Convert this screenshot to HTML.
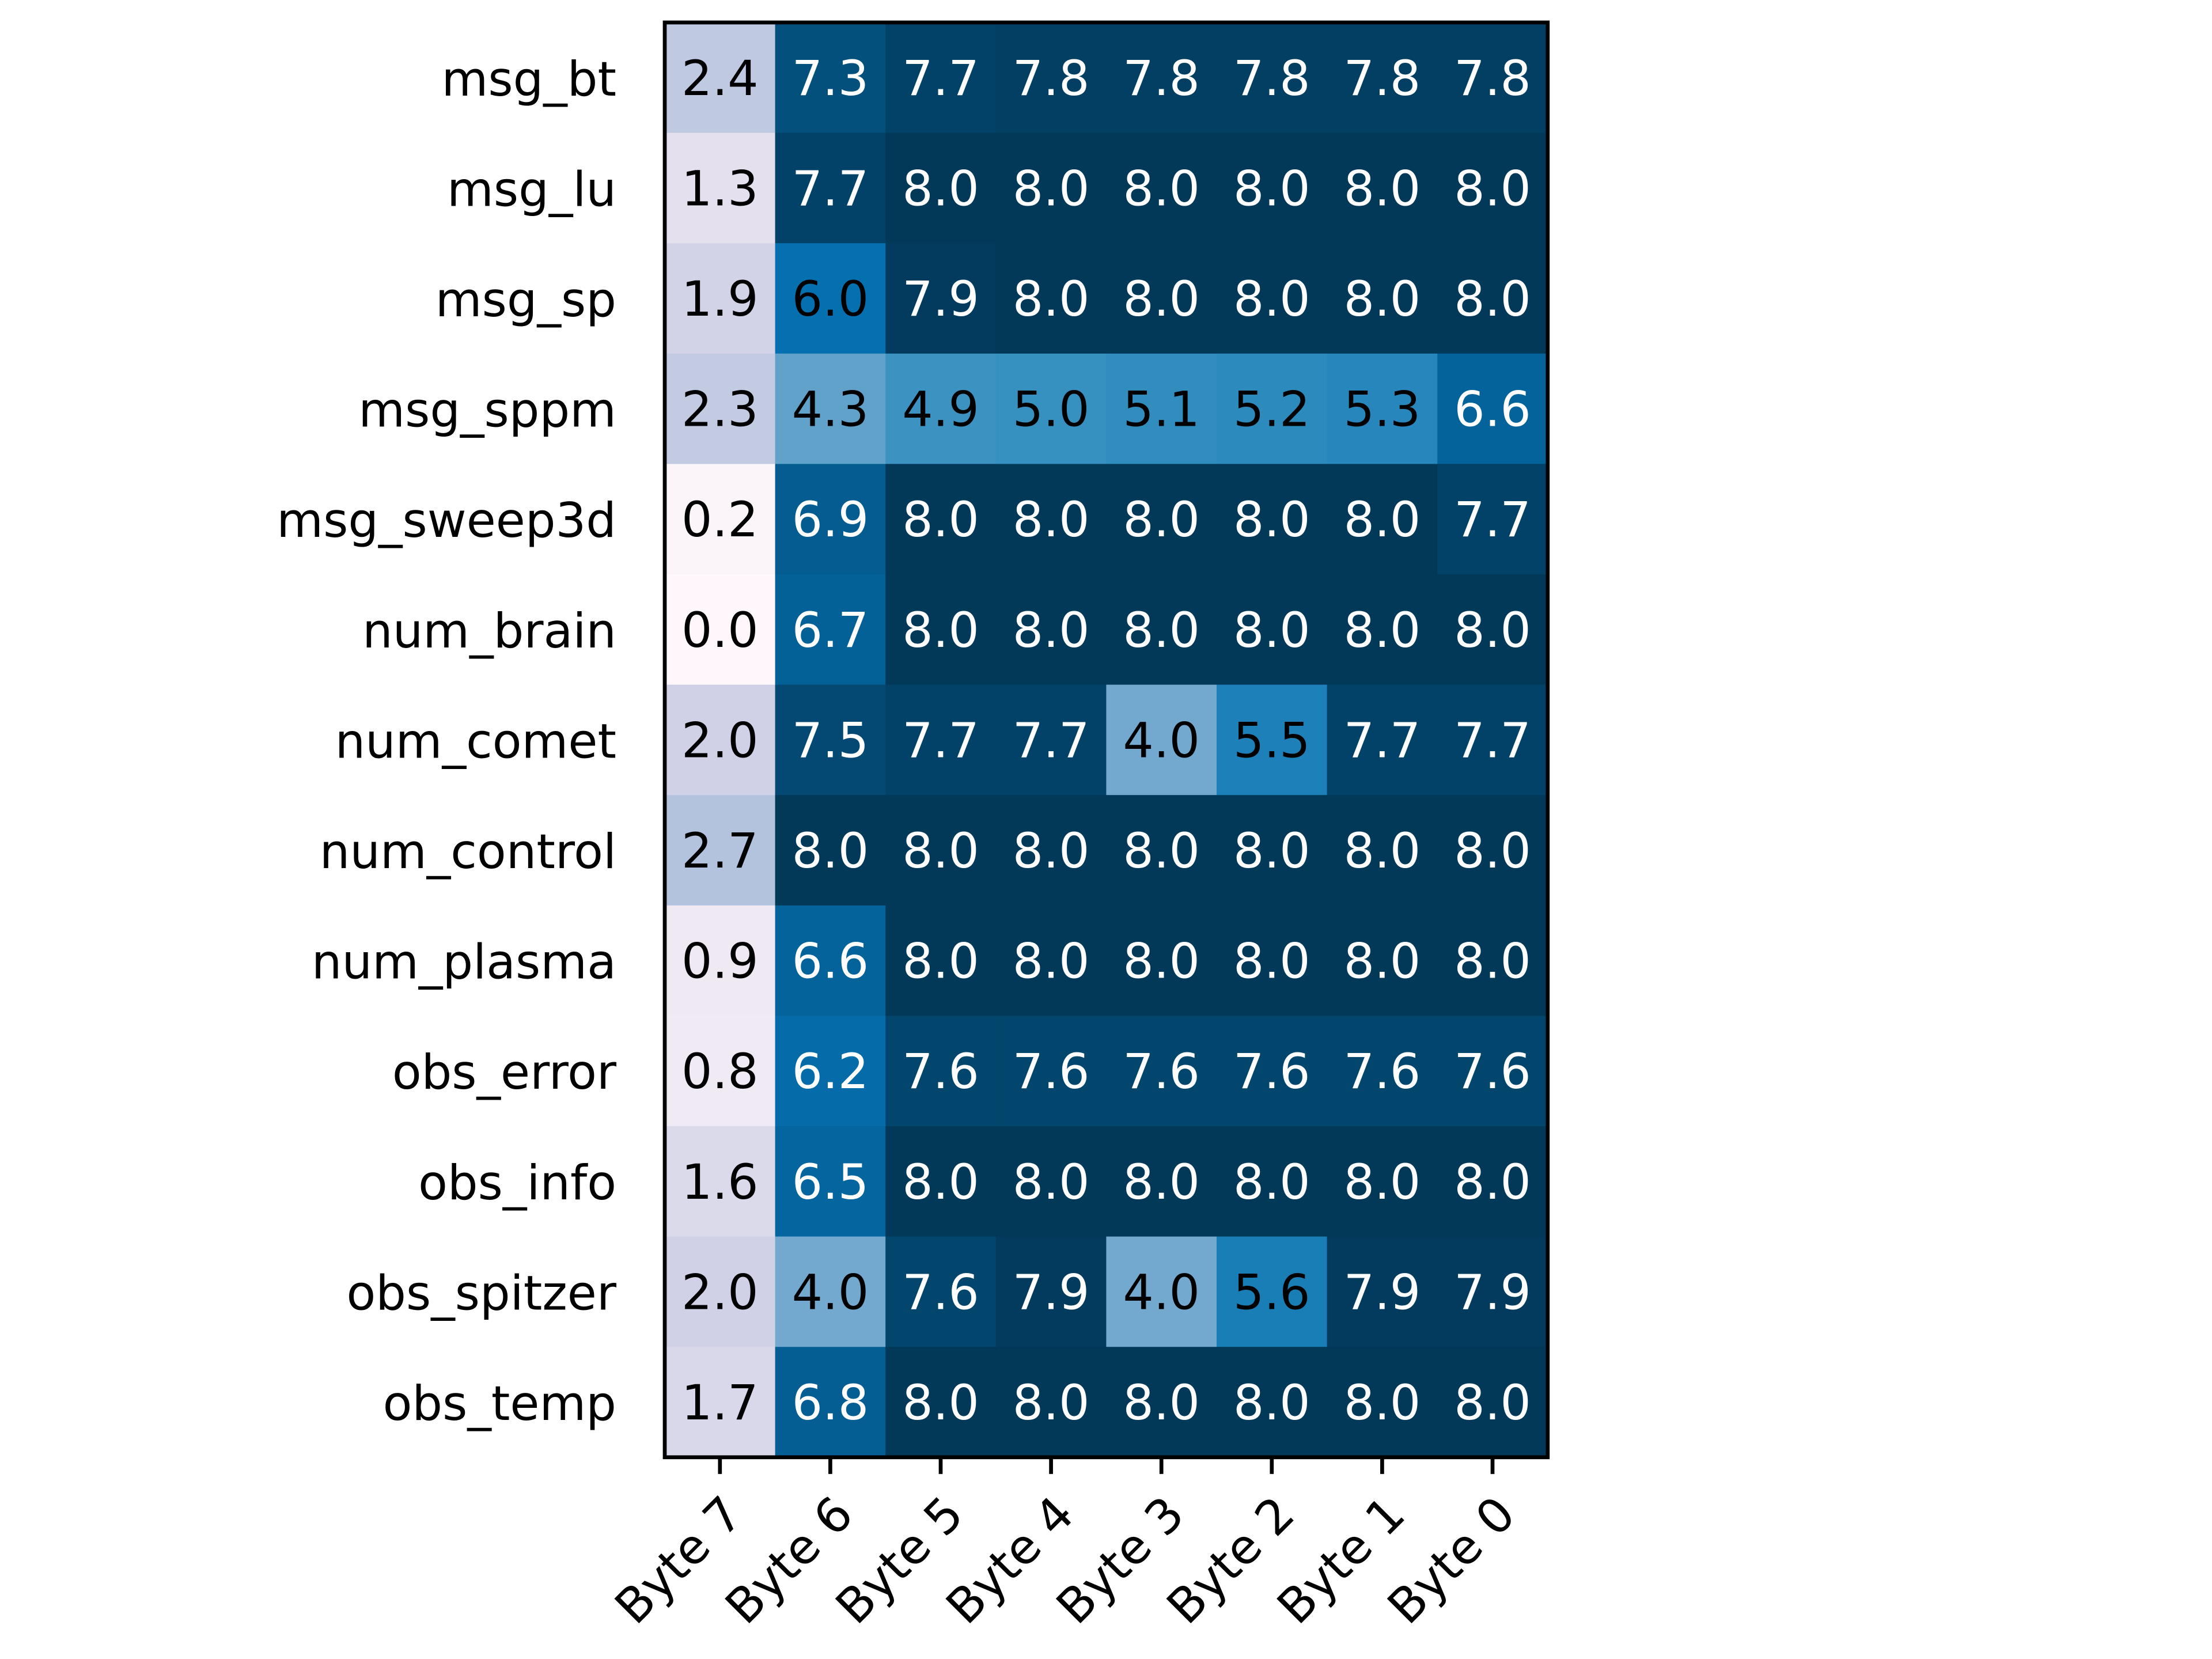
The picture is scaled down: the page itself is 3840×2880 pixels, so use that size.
<!DOCTYPE html>
<html><head><meta charset="utf-8"><style>
html,body{margin:0;padding:0;background:#fff;}
svg{display:block;}
text{font-family:"DejaVu Sans","Liberation Sans",sans-serif;}
</style></head>
<body>
<svg id="chart" width="3840" height="2880" viewBox="0 0 3840 2880" xmlns="http://www.w3.org/2000/svg">
<rect width="3840" height="2880" fill="#fff"/>
<g id="cells"></g>
<g id="ylabels"></g>
<g id="xlabels"></g>
<rect id="frame" fill="none" stroke="#000" stroke-width="6.7"/>
</svg>
<script>
const rowLabels = ["msg_bt","msg_lu","msg_sp","msg_sppm","msg_sweep3d","num_brain","num_comet","num_control","num_plasma","obs_error","obs_info","obs_spitzer","obs_temp"];
const colLabels = ["Byte 7","Byte 6","Byte 5","Byte 4","Byte 3","Byte 2","Byte 1","Byte 0"];
const values = [
 [2.4,7.3,7.7,7.8,7.8,7.8,7.8,7.8],
 [1.3,7.7,8.0,8.0,8.0,8.0,8.0,8.0],
 [1.9,6.0,7.9,8.0,8.0,8.0,8.0,8.0],
 [2.3,4.3,4.9,5.0,5.1,5.2,5.3,6.6],
 [0.2,6.9,8.0,8.0,8.0,8.0,8.0,7.7],
 [0.0,6.7,8.0,8.0,8.0,8.0,8.0,8.0],
 [2.0,7.5,7.7,7.7,4.0,5.5,7.7,7.7],
 [2.7,8.0,8.0,8.0,8.0,8.0,8.0,8.0],
 [0.9,6.6,8.0,8.0,8.0,8.0,8.0,8.0],
 [0.8,6.2,7.6,7.6,7.6,7.6,7.6,7.6],
 [1.6,6.5,8.0,8.0,8.0,8.0,8.0,8.0],
 [2.0,4.0,7.6,7.9,4.0,5.6,7.9,7.9],
 [1.7,6.8,8.0,8.0,8.0,8.0,8.0,8.0]
];
const vmin = 0, vmax = 8;

const NS = "http://www.w3.org/2000/svg";
const L = 1154, T = 39, CW = 191.6, CH = 191.6;
const nR = rowLabels.length, nC = colLabels.length;
const W = CW*nC, H = CH*nR;
function xPos(c){ return L + c*CW; }
function yPos(r){ return T + r*CH; }
const stops = ["#fff7fb","#ece7f2","#d0d1e6","#a6bddb","#74a9cf","#3690c0","#0570b0","#045a8d","#023858"];
function hex(h){ return [1,3,5].map(i=>parseInt(h.substr(i,2),16)); }
function cmap(v){
  let t = Math.max(0, Math.min(1, (v-vmin)/(vmax-vmin))) * (stops.length-1);
  let i = Math.min(Math.floor(t), stops.length-2), f = t - i;
  const a = hex(stops[i]), b = hex(stops[i+1]);
  return "rgb(" + a.map((x,k)=>Math.round(x+(b[k]-x)*f)).join(",") + ")";
}
const cells = document.getElementById("cells");
for (let r=0;r<nR;r++){
  for (let c=0;c<nC;c++){
    const v = values[r][c];
    const rect = document.createElementNS(NS,"rect");
    rect.setAttribute("x", xPos(c)); rect.setAttribute("y", yPos(r));
    rect.setAttribute("width", CW+0.6); rect.setAttribute("height", CH+0.6);
    rect.setAttribute("fill", cmap(v));
    
    
    cells.appendChild(rect);
    const tx = document.createElementNS(NS,"text");
    tx.setAttribute("x", xPos(c)+CW/2); tx.setAttribute("y", yPos(r)+CH/2+30);
    tx.setAttribute("text-anchor","middle"); tx.setAttribute("font-size","84");
    tx.setAttribute("fill", v > 6.0 ? "#fff" : "#000");
    tx.textContent = v.toFixed(1);
    
    
    cells.appendChild(tx);
  }
}
const yl = document.getElementById("ylabels");
rowLabels.forEach((lab,r)=>{
  const t = document.createElementNS(NS,"text");
  t.setAttribute("x", 1070); t.setAttribute("y", yPos(r)+CH/2+31);
  t.setAttribute("text-anchor","end"); t.setAttribute("font-size","83");
  t.textContent = lab;
  
  
  yl.appendChild(t);
});
const xl = document.getElementById("xlabels");
const bottom = T + H;
colLabels.forEach((lab,c)=>{
  const cx = xPos(c)+CW/2;
  const tick = document.createElementNS(NS,"line");
  tick.setAttribute("x1",cx); tick.setAttribute("x2",cx);
  tick.setAttribute("y1",bottom); tick.setAttribute("y2",bottom+29);
  tick.setAttribute("stroke","#000"); tick.setAttribute("stroke-width","6.7");
  
  
  xl.appendChild(tick);
  const t = document.createElementNS(NS,"text");
  t.setAttribute("transform","translate("+cx+","+(bottom+60)+") rotate(-45)");
  t.setAttribute("x",0); t.setAttribute("y",62);
  t.setAttribute("text-anchor","end"); t.setAttribute("font-size","83");
  t.textContent = lab;
  
  
  xl.appendChild(t);
});
const fr = document.getElementById("frame");
fr.setAttribute("x",L); fr.setAttribute("y",T); fr.setAttribute("width",W); fr.setAttribute("height",H);
</script>
</body></html>
